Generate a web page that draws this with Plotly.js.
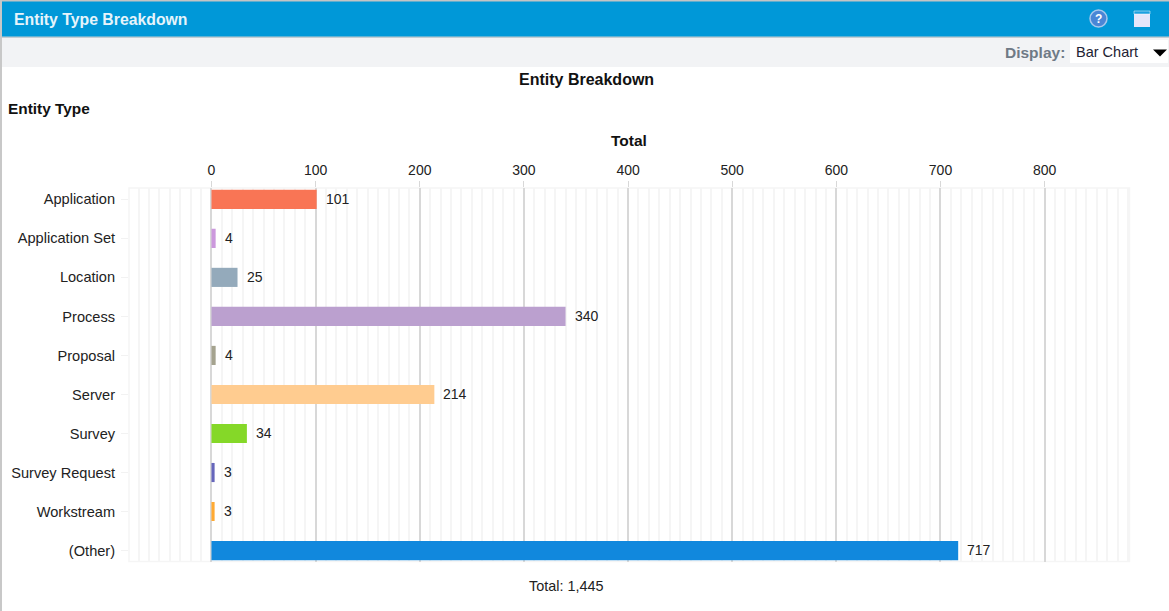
<!DOCTYPE html>
<html><head><meta charset="utf-8">
<script src="https://cdn.plot.ly/plotly-3.0.1.min.js"></script>
<style>html,body{margin:0;padding:0;background:#fff;overflow:hidden}#c{width:1169px;height:611px}</style>
</head><body><div id="c"></div>
<script>
const categories = ["Application","Application Set","Location","Process","Proposal","Server","Survey","Survey Request","Workstream","(Other)"];
const values = [101,4,25,340,4,214,34,3,3,717];
const colors = ["#F97555","#CC99DD","#94AABB","#BBA0CF","#A5A38F","#FFCC90","#85D828","#6666BB","#FFAA33","#1188DD"];
const totalLabel = "Total: 1,445";
const W=1169,H=611;
const px=x=>x/W, py=y=>1-y/H;
const font='"Liberation Sans", Arial, sans-serif';
function rect(x0,y0,x1,y1,fill,line){return {type:'rect',xref:'paper',yref:'paper',x0:px(x0),x1:px(x1),y0:py(y0),y1:py(y1),fillcolor:fill,line:line||{width:0},layer:'below'};}
function note(x,y,text,size,color,anchor,bold){return {xref:'paper',yref:'paper',x:px(x),y:py(y),text:bold?'<b>'+text+'</b>':text,showarrow:false,xanchor:anchor,yanchor:'middle',font:{family:font,size:size,color:color}};}
const valueNotes=values.map((v,i)=>({xref:'x',yref:'y',x:v,y:categories[i],text:String(v),showarrow:false,xanchor:'left',yanchor:'middle',xshift:7,yshift:0.5,font:{family:font,size:14,color:'#222'}}));
const layout={
  width:W,height:H,margin:{l:0,r:0,t:0,b:0},paper_bgcolor:'#fff',plot_bgcolor:'#fff',showlegend:false,
  xaxis:{domain:[px(129),px(1129.5)],range:[-79.2,881.5],side:'top',anchor:'y',tickvals:[0,100,200,300,400,500,600,700,800],
    ticks:'outside',ticklen:6,tickcolor:'#d8d8d8',tickwidth:1,tickfont:{family:font,size:14,color:'#222'},
    showgrid:true,gridcolor:'#d8d8d8',gridwidth:2,zeroline:false,showline:false,
    minor:{dtick:10,showgrid:true,gridcolor:'#f5f5f5',gridwidth:2,ticks:''}},
  yaxis:{domain:[py(561.5),py(188)],range:[9.28,-0.29],type:'category',categoryorder:'array',categoryarray:categories,
    ticks:'outside',ticklen:7,tickcolor:'#f2f2f2',tickfont:{family:font,size:14.6,color:'#222'},ticklabelstandoff:3,
    showgrid:false,zeroline:false,showline:false,automargin:false},
  shapes:[
    rect(0,1,1169,37,'#0098D8'),
    rect(0,37,1169,67,'#F2F3F5'),
    rect(0,0,1169,1.5,'#C4C4C4'),
    rect(0,36.5,1169,38,'#C4CDD2'),
    rect(0,0,2,611,'#C8C8C8'),
    rect(1070,40,1168,63,'#FFFFFF'),
    rect(129,188,1129.5,561.5,'rgba(0,0,0,0)',{color:'#f5f5f5',width:1.5}),
    {type:'circle',xref:'paper',yref:'paper',x0:px(1090),x1:px(1107),y0:py(10),y1:py(27),fillcolor:'#4A86D6',line:{color:'#A8C8EC',width:1.5},layer:'above'},
    {type:'rect',xref:'paper',yref:'paper',x0:px(1134),x1:px(1150),y0:py(11),y1:py(27),fillcolor:'#E6E6FA',line:{width:0},layer:'above'},
    {type:'rect',xref:'paper',yref:'paper',x0:px(1134),x1:px(1150),y0:py(11),y1:py(14),fillcolor:'#1EA0E0',line:{color:'#FFFFFF',width:0.5},layer:'above'},
    {type:'path',xref:'paper',yref:'paper',path:`M ${px(1153)} ${py(49.5)} L ${px(1167)} ${py(49.5)} L ${px(1160)} ${py(56.5)} Z`,fillcolor:'#000',line:{width:0},layer:'above'}
  ],
  annotations:[
    note(12,19.5,'Entity Type Breakdown',15.8,'#E6F4FB','left',true),
    note(1098.5,18.5,'?',12,'#FFFFFF','center',true),
    note(1067,52,'Display:',15.5,'#6F7A86','right',true),
    note(1074,52,'Bar Chart',14.5,'#222233','left',false),
    note(586,79.5,'Entity Breakdown',16,'#111','center',true),
    note(6,108,'Entity Type',15.4,'#111','left',true),
    note(628.5,140.5,'Total',15.5,'#111','center',true),
    note(565.5,585.5,totalLabel,14.4,'#222','center',false)
  ].concat(valueNotes)
};
const trace={type:'bar',orientation:'h',x:values,y:categories,cliponaxis:false,marker:{color:colors,line:{width:0}},width:0.49,hoverinfo:'x+y'};
Plotly.newPlot('c',[trace],layout,{displayModeBar:false,staticPlot:true});
</script></body></html>
